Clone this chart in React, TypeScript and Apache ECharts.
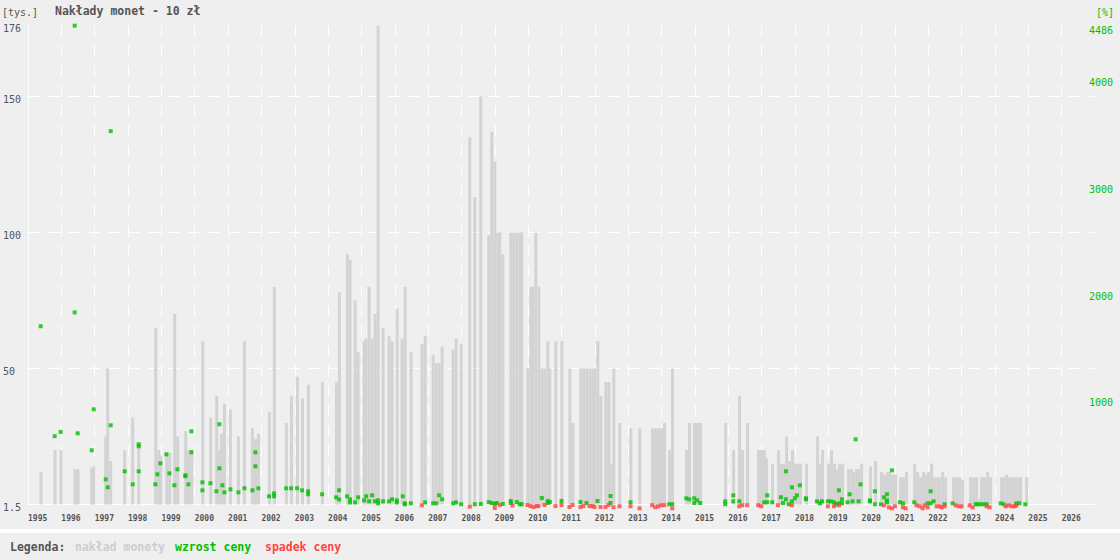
import React, { useEffect, useRef } from "react";
import * as echarts from "echarts";

// Issue dates (decimal years) and mintage in thousands
const barYears = [
  1995.39, 1995.81, 1995.99, 1996.41, 1996.5, 1996.91, 1996.97, 1997.33, 1997.39, 1997.48,
  1997.9, 1998.14, 1998.32, 1998.83, 1998.92, 1998.98, 1999.16, 1999.25, 1999.4, 1999.49,
  1999.73, 1999.82, 1999.91, 2000.24, 2000.48, 2000.66, 2000.75, 2000.8, 2000.89, 2001.07,
  2001.31, 2001.49, 2001.73, 2001.82, 2001.91, 2002.24, 2002.39, 2002.75, 2002.9, 2003.08,
  2003.23, 2003.41, 2003.83, 2004.25, 2004.34, 2004.58, 2004.66, 2004.81, 2004.9, 2005.08,
  2005.14, 2005.23, 2005.32, 2005.41, 2005.5, 2005.65, 2005.83, 2005.92, 2006.07, 2006.22,
  2006.31, 2006.49, 2006.82, 2006.91, 2007.15, 2007.24, 2007.33, 2007.42, 2007.75, 2007.84,
  2007.99, 2008.25, 2008.4, 2008.58, 2008.82, 2008.91, 2009.0, 2009.09, 2009.15, 2009.24,
  2009.48, 2009.57, 2009.66, 2009.75, 2009.81, 2009.99, 2010.08, 2010.14, 2010.23, 2010.32,
  2010.41, 2010.5, 2010.59, 2010.65, 2010.83, 2011.01, 2011.25, 2011.34, 2011.58, 2011.67,
  2011.76, 2011.85, 2011.94, 2012.0, 2012.09, 2012.18, 2012.33, 2012.42, 2012.51, 2012.57,
  2012.75, 2013.08, 2013.35, 2013.73, 2013.82, 2013.91, 2014.0, 2014.09, 2014.24, 2014.33,
  2014.75, 2014.84, 2014.99, 2015.08, 2015.17, 2015.92, 2016.16, 2016.34, 2016.43, 2016.58,
  2016.91, 2017.0, 2017.09, 2017.15, 2017.33, 2017.51, 2017.6, 2017.69, 2017.75, 2017.84,
  2017.93, 2018.02, 2018.11, 2018.17, 2018.35, 2018.68, 2018.77, 2018.83, 2019.01, 2019.1,
  2019.19, 2019.28, 2019.34, 2019.43, 2019.61, 2019.7, 2019.76, 2019.85, 2019.91, 2020.0,
  2020.27, 2020.42, 2020.6, 2020.69, 2020.78, 2020.84, 2020.93, 2021.02, 2021.17, 2021.26,
  2021.35, 2021.59, 2021.68, 2021.77, 2021.86, 2021.95, 2022.01, 2022.1, 2022.19, 2022.28,
  2022.34, 2022.43, 2022.52, 2022.76, 2022.85, 2022.94, 2023.03, 2023.27, 2023.36, 2023.45,
  2023.54, 2023.6, 2023.69, 2023.78, 2023.87, 2024.2, 2024.26, 2024.35, 2024.44, 2024.53,
  2024.62, 2024.71, 2024.77, 2024.95,
];
const barValues = [
  12, 20, 20, 13, 13, 13.5, 14, 25, 50, 16,
  20, 32, 21, 65, 20, 18, 19, 19, 70, 25,
  27, 20, 20, 60, 32, 40, 20, 26, 37, 35,
  25, 60, 28, 24, 26, 34, 80, 30, 40, 47,
  39, 44, 45, 45, 78, 92, 90, 75, 56, 60,
  61, 80, 61, 70, 176, 65, 62, 60, 72, 61,
  80, 56, 59, 62, 55, 52, 52, 58, 57, 61,
  59, 135, 113, 150, 99, 137, 126, 100, 100, 92,
  100, 100, 100, 100, 100, 50, 80, 80, 100, 80,
  50, 50, 60, 50, 60, 60, 50, 30, 50, 50,
  50, 50, 50, 50, 60, 40, 45, 45, 15, 50,
  30, 28, 28, 28, 28, 28, 28, 30, 20, 50,
  20, 30, 30, 30, 30, 30, 20, 40, 20, 30,
  20, 20, 20, 17, 15, 20, 15, 15, 25, 16,
  20, 15, 15, 15, 15, 25, 15, 20, 15, 20,
  15, 13, 15, 15, 13, 13, 12, 13, 13, 15,
  14, 16, 12, 11, 12, 12, 11, 11, 10, 10,
  12, 15, 12, 10, 12, 11, 12, 15, 10, 10,
  10, 12, 10, 10, 10, 10, 9, 10, 10, 10,
  2, 10, 10, 12, 10, 10, 10, 11, 10, 10,
  10, 10, 10, 10,
];

// Price increase [%]
const riseYears = [
  1995.38, 1995.8, 1995.98, 1996.4, 1996.4, 1996.49, 1996.91, 1996.97, 1997.33, 1997.39,
  1997.48, 1997.48, 1997.9, 1998.14, 1998.32, 1998.32, 1998.32, 1998.82, 1998.88, 1998.97,
  1999.15, 1999.24, 1999.39, 1999.48, 1999.72, 1999.72, 1999.81, 1999.9, 1999.9, 2000.23,
  2000.23, 2000.47, 2000.65, 2000.74, 2000.74, 2000.83, 2000.89, 2001.07, 2001.31, 2001.49,
  2001.73, 2001.82, 2001.82, 2001.91, 2002.23, 2002.38, 2002.38, 2002.74, 2002.89, 2003.07,
  2003.22, 2003.4, 2003.4, 2003.82, 2004.24, 2004.33, 2004.33, 2004.57, 2004.66, 2004.66,
  2004.81, 2004.9, 2005.08, 2005.14, 2005.23, 2005.32, 2005.41, 2005.5, 2005.5, 2005.65,
  2005.83, 2005.92, 2006.06, 2006.06, 2006.24, 2006.3, 2006.3, 2006.48, 2006.91, 2007.15,
  2007.24, 2007.33, 2007.42, 2007.75, 2007.84, 2007.99, 2008.4, 2008.58, 2008.82, 2008.91,
  2009.0, 2009.06, 2009.24, 2009.48, 2009.48, 2009.66, 2009.75, 2009.81, 2010.41, 2010.59,
  2010.59, 2010.65, 2011.0, 2011.57, 2011.75, 2012.08, 2012.47, 2012.47, 2013.07, 2014.23,
  2014.32, 2014.74, 2014.83, 2014.98, 2014.98, 2015.07, 2015.16, 2015.91, 2015.91, 2016.15,
  2016.15, 2016.33, 2017.08, 2017.17, 2017.17, 2017.32, 2017.58, 2017.64, 2017.73, 2017.73,
  2017.82, 2017.91, 2017.91, 2018.0, 2018.06, 2018.15, 2018.33, 2018.33, 2018.66, 2018.75,
  2018.81, 2018.99, 2019.08, 2019.17, 2019.23, 2019.32, 2019.32, 2019.41, 2019.41, 2019.58,
  2019.64, 2019.73, 2019.82, 2019.91, 2019.97, 2020.25, 2020.25, 2020.4, 2020.4, 2020.58,
  2020.67, 2020.76, 2020.76, 2020.76, 2020.91, 2021.15, 2021.24, 2021.58, 2021.98, 2022.07,
  2022.07, 2022.16, 2022.49, 2022.73, 2023.42, 2023.48, 2023.57, 2023.66, 2023.75, 2024.17,
  2024.26, 2024.64, 2024.73, 2024.91,
];
const riseValues = [
  1670, 640, 680, 4486, 1800, 667, 508, 892, 236, 161,
  3498, 742, 311, 189, 564, 545, 311, 189, 283, 386,
  470, 292, 180, 330, 274, 265, 189, 686, 489, 208,
  133, 199, 124, 752, 339, 180, 114, 142, 114, 152,
  133, 489, 358, 152, 77, 105, 77, 152, 152, 152,
  133, 124, 96, 96, 67, 133, 48, 77, 48, 20,
  20, 67, 39, 77, 30, 86, 30, 39, 11, 30,
  30, 49, 39, 20, 77, 11, 2, 11, 20, 11,
  11, 86, 49, 11, 20, 2, 2, 5, 23, 14,
  5, 14, 5, 33, 14, 23, 2, 2, 61, 33,
  14, 23, 33, 23, 14, 33, 80, 14, 21, 2,
  2, 58, 49, 58, 14, 39, 14, 30, 2, 86,
  30, 30, 21, 21, 86, 21, 68, 14, 311, 49,
  2, 161, 30, 58, 86, 180, 58, 49, 30, 11,
  30, 30, 30, 21, 2, 133, 11, 49, 11, 21,
  96, 30, 611, 30, 189, 39, 30, 124, 2, 2,
  67, 96, 39, 21, 320, 21, 11, 21, 11, 124,
  11, 30, 2, 11, 2, 2, 2, 2, 2, 11,
  2, 11, 11, 2,
];

// Price decrease [%]
const fallYears = [
  2006.81, 2008.25, 2009.0, 2009.15, 2009.53, 2009.98, 2010.07, 2010.16, 2010.25, 2010.31,
  2010.49, 2010.82, 2011.0, 2011.24, 2011.33, 2011.57, 2011.66, 2011.84, 2011.93, 2011.99,
  2012.17, 2012.32, 2012.41, 2012.56, 2012.74, 2013.07, 2013.34, 2013.72, 2013.81, 2013.9,
  2013.99, 2014.08, 2014.32, 2016.33, 2016.42, 2016.57, 2016.9, 2016.99, 2017.49, 2017.91,
  2018.99, 2019.17, 2019.32, 2020.67, 2020.82, 2020.91, 2021.0, 2021.24, 2021.32, 2021.65,
  2021.74, 2021.83, 2021.89, 2021.98, 2022.25, 2022.34, 2022.4, 2022.49, 2022.82, 2022.91,
  2023.0, 2023.24, 2023.33, 2023.75, 2023.84, 2024.32, 2024.41, 2024.5, 2024.59, 2024.64,
];
const fallValues = [
  -8, -20, -33, -5, -10, -5, -15, -24, -15, -15,
  -5, -15, -5, -24, -5, -24, -15, -15, -15, -24,
  -24, -24, -5, -26, -17, -17, -36, -7, -26, -17,
  -7, -7, -36, -17, -7, -7, -7, -17, -7, -7,
  -17, -17, -8, -8, -27, -36, -17, -27, -36, -8,
  -17, -36, -8, -27, -17, -17, -27, -17, -8, -17,
  -17, -8, -27, -17, -27, -17, -8, -17, -17, -8,
];

const rightLabels = [1000, 2000, 3000, 4000, 4486];

const MONO = "'DejaVu Sans Mono', 'Liberation Mono', monospace";
const GREEN = "#00c000";
const RED = "#ff4444";
const GRAY = "#555555";

export default function App() {
  const ref = useRef<HTMLDivElement>(null);
  useEffect(() => {
    const chart = echarts.init(ref.current as HTMLDivElement, null, { renderer: "svg" });
    const legendBase = {
      top: 541,
      itemWidth: 0,
      itemHeight: 0,
      padding: 0,
      selectedMode: false,
      textStyle: { fontFamily: MONO, fontSize: 11.5, fontWeight: "bold" },
    };
    chart.setOption({
      animation: false,
      backgroundColor: "#efefef",
      textStyle: { fontFamily: MONO },
      title: {
        text: "Nakłady monet - 10 zł",
        left: 55,
        top: 5,
        padding: 0,
        textStyle: { fontFamily: MONO, fontSize: 11.5, fontWeight: "bold", color: GRAY },
      },
      legend: [
        { ...legendBase, left: 70, data: [{ name: "nakład monety", textStyle: { color: "#cdcdcd" } }] },
        { ...legendBase, left: 170, data: [{ name: "wzrost ceny", textStyle: { color: GREEN } }] },
        { ...legendBase, left: 260, data: [{ name: "spadek ceny", textStyle: { color: RED } }] },
      ],
      grid: { left: 25, right: 25, top: 25.7, bottom: 55.5, containLabel: false },
      xAxis: {
        type: "value",
        min: 1995,
        max: 2027,
        interval: 1,
        axisLine: { show: true, lineStyle: { color: "#ffffff", width: 1 } },
        axisTick: { show: false },
        axisLabel: {
          formatter: (v: number) => String(v),
          align: "left",
          showMaxLabel: false,
          color: GRAY,
          fontSize: 8,
          fontWeight: "bold",
          fontFamily: MONO,
          margin: 10,
        },
        splitLine: {
          show: true,
          showMinLine: false,
          showMaxLine: false,
          lineStyle: { color: "#ffffff", width: 1, type: [11, 9] },
        },
      },
      yAxis: [
        {
          type: "value",
          min: 0,
          max: 176,
          interval: 50,
          position: "left",
          axisLine: { show: true, lineStyle: { color: "#ffffff", width: 1 } },
          axisTick: { show: false },
          axisLabel: {
            formatter: (v: number) => (v === 0 ? "1.5" : String(v)),
            align: "left",
            verticalAlign: "top",
            lineHeight: 10,
            margin: 25,
            color: GRAY,
            fontSize: 10,
            fontFamily: MONO,
            padding: [-2, 0, 0, 0],
          },
          splitLine: {
            show: true,
            showMinLine: false,
            showMaxLine: false,
            lineStyle: { color: "#ffffff", width: 1, type: [12, 8] },
          },
        },
        {
          type: "value",
          min: 0,
          max: 4486,
          position: "right",
          axisLine: { show: false },
          axisTick: { show: false },
          splitLine: { show: false },
          axisLabel: {
            customValues: rightLabels,
            formatter: (v: number) => String(v),
            align: "right",
            verticalAlign: "top",
            lineHeight: 10,
            margin: 18,
            color: GREEN,
            fontSize: 10,
            fontFamily: MONO,
          },
        },
      ],
      series: [
        {
          type: "bar",
          name: "nakład monety",
          yAxisIndex: 0,
          barWidth: 3,
          itemStyle: { color: "#d3d3d3" },
          data: barYears.map((y, i) => [y, barValues[i]]),
          z: 2,
        },
        {
          type: "scatter",
          name: "wzrost ceny",
          yAxisIndex: 1,
          symbol: "rect",
          symbolSize: 4,
          clip: false,
          itemStyle: { color: GREEN },
          data: riseYears.map((y, i) => [y, riseValues[i]]),
          z: 3,
        },
        {
          type: "scatter",
          name: "spadek ceny",
          yAxisIndex: 1,
          symbol: "rect",
          symbolSize: 4,
          clip: false,
          itemStyle: { color: RED },
          data: fallYears.map((y, i) => [y, fallValues[i]]),
          z: 3,
        },
      ],
      graphic: [
        {
          type: "rect",
          silent: true,
          shape: { x: 0, y: 529, width: 1120, height: 4 },
          style: { fill: "#ffffff" },
        },
        {
          type: "text",
          silent: true,
          x: 2,
          y: 12,
          style: {
            text: "[tys.]",
            fill: GRAY,
            fontFamily: MONO,
            fontSize: 10,
            verticalAlign: "middle",
          },
        },
        {
          type: "text",
          silent: true,
          x: 1096,
          y: 12,
          style: {
            text: "[%]",
            fill: GREEN,
            fontFamily: MONO,
            fontSize: 10,
            verticalAlign: "middle",
          },
        },
        {
          type: "text",
          silent: true,
          x: 10,
          y: 547,
          style: {
            text: "Legenda:",
            fill: GRAY,
            fontFamily: MONO,
            fontSize: 11.5,
            fontWeight: "bold",
            verticalAlign: "middle",
          },
        },
      ],
    });
    return () => chart.dispose();
  }, []);
  return (
    <div
      ref={ref}
      style={{ position: "fixed", left: 0, top: 0, width: 1120, height: 560 }}
    />
  );
}
